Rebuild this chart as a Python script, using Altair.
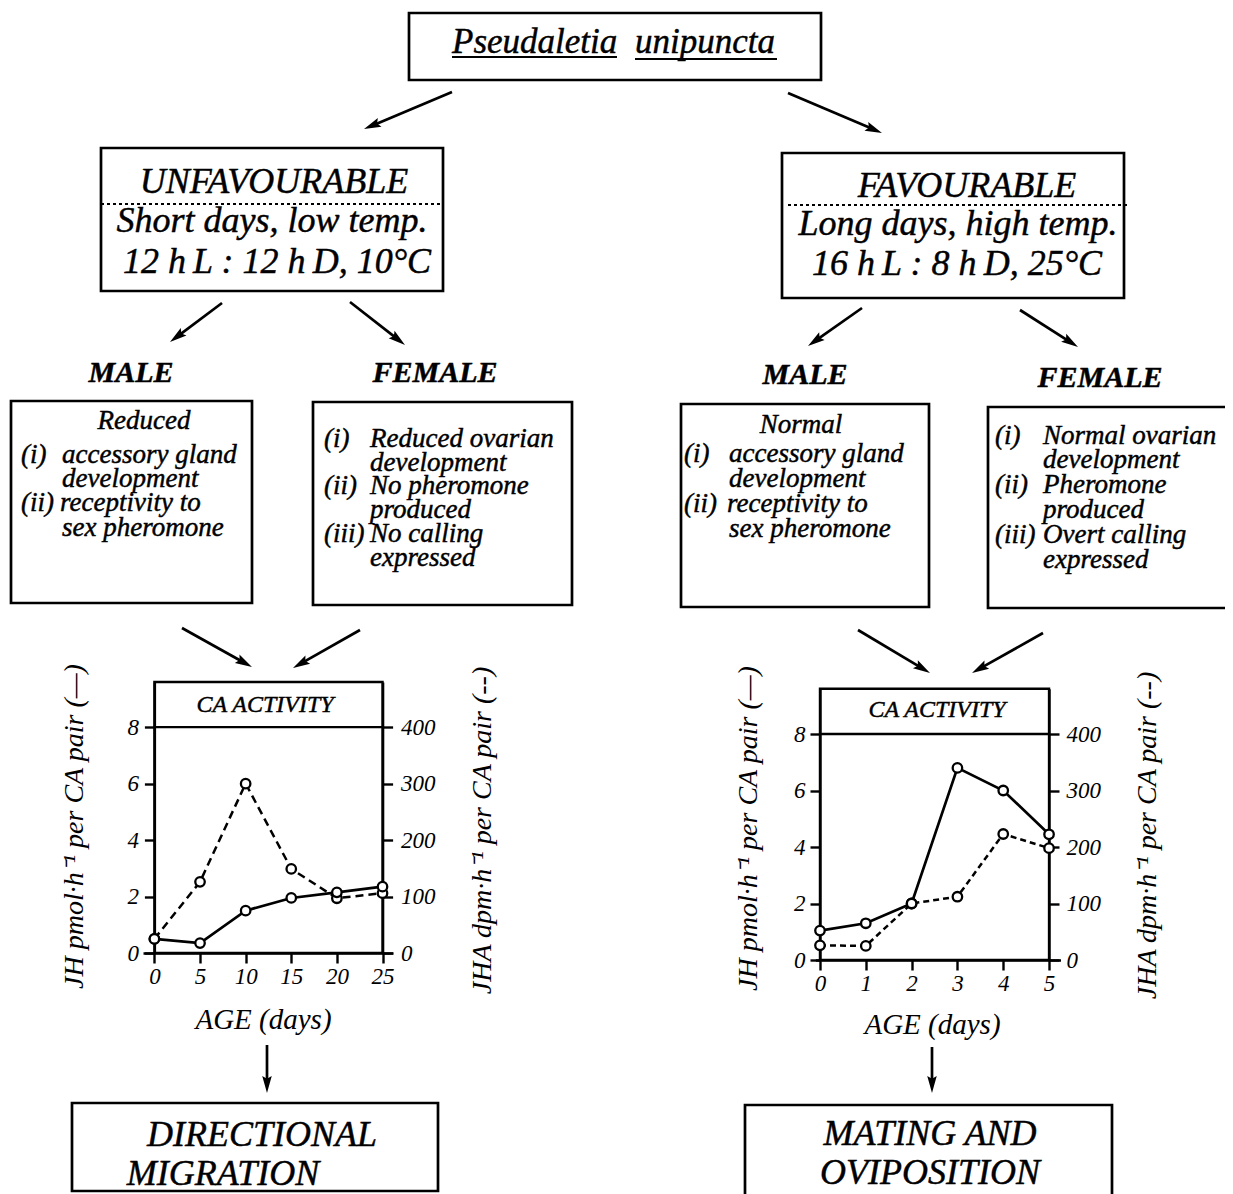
import math
import altair as alt
import pandas as pd

# ---------------- values ----------------
age_unfav = [0, 5, 10, 15, 20, 25]
jh_unfav = [0.50, 0.35, 1.50, 1.95, 2.15, 2.35]
jha_unfav = [25, 126, 300, 149, 97, 106]

age_fav = [0, 1, 2, 3, 4, 5]
jh_fav = [1.04, 1.30, 2.00, 6.80, 6.00, 4.45]
jha_fav = [26, 25, 100, 112, 223, 198]

jh_ticks = [0, 2, 4, 6, 8]
jha_ticks = [0, 100, 200, 300, 400]
age_ticks_unfav = [0, 5, 10, 15, 20, 25]
age_ticks_fav = [0, 1, 2, 3, 4, 5]
jh_frame_top = 9.6
jha_frame_top = 480

jh_title = "JH pmol·h⁻¹  per CA pair (—)"
jha_title = "JHA dpm·h⁻¹  per CA pair (--)"
age_title = "AGE (days)"
panel_label = "CA  ACTIVITY"

# ---------------- page geometry (reference pixels) ----------------
OFF = 8
W, H = 1217, 1186
FONT = "Liberation Serif"


def c(v):
    return v - OFF


boxes = [
    (409, 13, 821, 80),
    (101, 148, 443, 291),
    (782, 153, 1124, 298),
    (11, 401, 252, 603),
    (313, 402, 572, 605),
    (681, 404, 929, 607),
    (988, 407, 1260, 608),
    (72, 1103, 438, 1191),
    (745, 1105, 1112, 1210),
]
dotted = [(101, 204, 443, 204), (788, 205, 1127, 205)]
underlines = [(452, 57, 617, 57), (635, 59, 777, 59)]

BIG = 36
BOX = 27
text_ic = [
    ("UNFAVOURABLE", 274, 193, BIG),
    ("Short days, low temp.", 272, 232, BIG),
    ("12 h\u2009L : 12 h\u2009D, 10°C", 277, 273, BIG),
    ("FAVOURABLE", 967, 197, BIG),
    ("Long days, high temp.", 958, 235, BIG),
    ("16 h\u2009L : 8 h\u2009D, 25°C", 957, 275, BIG),
    ("Reduced", 144, 429, BOX),
    ("Normal", 801, 433, BOX),
    (panel_label, 265, 712, 24),
    (panel_label, 937, 717, 24),
    ("DIRECTIONAL", 262, 1146, 36),
    ("MIGRATION", 223, 1185, 36),
    ("MATING AND", 930, 1145, 36),
    ("OVIPOSITION", 930, 1184, 36),
]
text_il = [
    ("Pseudaletia", 452, 53, 35),
    ("unipuncta", 635, 53, 35),
    ("(i)", 21, 463, BOX), ("accessory gland", 62, 463, BOX),
    ("development", 62, 487, BOX),
    ("(ii)", 21, 511, BOX), ("receptivity to", 60, 511, BOX),
    ("sex pheromone", 62, 536, BOX),
    ("(i)", 324, 447, BOX), ("Reduced ovarian", 370, 447, BOX),
    ("development", 370, 471, BOX),
    ("(ii)", 324, 494, BOX), ("No pheromone", 370, 494, BOX),
    ("produced", 370, 518, BOX),
    ("(iii)", 324, 542, BOX), ("No calling", 370, 542, BOX),
    ("expressed", 370, 566, BOX),
    ("(i)", 684, 462, BOX), ("accessory gland", 729, 462, BOX),
    ("development", 729, 487, BOX),
    ("(ii)", 684, 512, BOX), ("receptivity to", 727, 512, BOX),
    ("sex pheromone", 729, 537, BOX),
    ("(i)", 995, 444, BOX), ("Normal ovarian", 1043, 444, BOX),
    ("development", 1043, 468, BOX),
    ("(ii)", 995, 493, BOX), ("Pheromone", 1043, 493, BOX),
    ("produced", 1043, 518, BOX),
    ("(iii)", 995, 543, BOX), ("Overt calling", 1043, 543, BOX),
    ("expressed", 1043, 568, BOX),
]
text_bi = [
    ("MALE", 131, 382, 30), ("FEMALE", 435, 382, 30),
    ("MALE", 805, 384, 30), ("FEMALE", 1100, 387, 30),
]
arrows = [
    ((452, 92), (364, 129)),
    ((788, 93), (882, 133)),
    ((222, 303), (170, 342)),
    ((350, 302), (405, 345)),
    ((862, 308), (808, 346)),
    ((1020, 310), (1078, 347)),
    ((182, 628), (252, 667)),
    ((360, 630), (293, 668)),
    ((858, 630), (930, 673)),
    ((1043, 633), (972, 673)),
    ((267, 1045), (267, 1093)),
    ((932, 1047), (932, 1093)),
]
HEAD = 17.0
HEAD_PATH = "M0,0L0.42,1.5L0,1.25L-0.42,1.5Z"
HEAD_SIZE = (2 * HEAD / 1.5) ** 2

NX = dict(scale=None, axis=None)


def text_layer(rows, style, weight, align):
    df = pd.DataFrame([dict(t=t, x=c(x), y=c(y), s=s) for t, x, y, s in rows])
    return alt.Chart(df).mark_text(
        font=FONT, fontStyle=style, fontWeight=weight, align=align,
        baseline="alphabetic", color="black", stroke="black", strokeWidth=0.45,
    ).encode(
        x=alt.X("x:Q", **NX), y=alt.Y("y:Q", **NX), text="t:N",
        size=alt.Size("s:Q", scale=None, legend=None),
    )


def seg_layer(rows, width, dash=None):
    df = pd.DataFrame([dict(x=c(a), y=c(b), x2=c(cc), y2=c(d)) for a, b, cc, d in rows])
    kw = dict(color="black", strokeWidth=width)
    if dash:
        kw["strokeDash"] = dash
    return alt.Chart(df).mark_rule(**kw).encode(
        x=alt.X("x:Q", **NX), y=alt.Y("y:Q", **NX), x2="x2:Q", y2="y2:Q"
    )


def box_layer(rows):
    df = pd.DataFrame([dict(x=c(a), y=c(b), x2=c(cc), y2=c(d)) for a, b, cc, d in rows])
    return alt.Chart(df).mark_rect(
        fill="white", fillOpacity=0, stroke="black", strokeWidth=2.7
    ).encode(x=alt.X("x:Q", **NX), y=alt.Y("y:Q", **NX), x2="x2:Q", y2="y2:Q")


def arrow_layers(rows):
    shafts, heads = [], []
    for (x1, y1), (x2, y2) in rows:
        dx, dy = x2 - x1, y2 - y1
        L = math.hypot(dx, dy)
        ux, uy = dx / L, dy / L
        shafts.append((x1, y1, x2 - ux * HEAD * 0.7, y2 - uy * HEAD * 0.7))
        heads.append(dict(x=c(x2), y=c(y2), a=math.degrees(math.atan2(ux, -uy)) % 360))
    shaft = seg_layer(shafts, 2.7)
    head = alt.Chart(pd.DataFrame(heads)).mark_point(
        shape=HEAD_PATH, filled=True, color="black", size=HEAD_SIZE, opacity=1, strokeWidth=0
    ).encode(
        x=alt.X("x:Q", **NX), y=alt.Y("y:Q", **NX),
        angle=alt.Angle("a:Q", scale=None, legend=None),
    )
    return [shaft, head]


AX_COMMON = dict(
    grid=False, labelFont=FONT, labelFontStyle="italic", labelFontSize=23,
    labelColor="black", titleFont=FONT, titleFontStyle="italic",
    titleFontWeight="normal", titleColor="black", domainColor="black",
    tickColor="black", domainWidth=2.4, tickWidth=2.4, labelFlush=False,
    labelOverlap=False,
)


def panel(age, jh, jha, age_ticks, xdom, xrng, yrng, x_axis_y, yl_x, yr_x,
          x_title_xy, yl_title_xy, yr_title_xy, dash, pad_l, pad_r):
    xs = alt.Scale(domain=xdom, range=xrng, nice=False, zero=False)
    yls = alt.Scale(domain=[0, jh_frame_top], range=yrng, nice=False, zero=False)
    yrs = alt.Scale(domain=[0, jha_frame_top], range=yrng, nice=False, zero=False)

    ax_x = alt.Axis(orient="bottom", offset=x_axis_y - H, values=age_ticks,
                    title=age_title, tickSize=10, labelPadding=2, format="d",
                    titleFontSize=29, titleX=x_title_xy[0], titleY=x_title_xy[1],
                    titleBaseline="top", **AX_COMMON)
    ax_yl = alt.Axis(orient="left", offset=-yl_x, values=jh_ticks, title=jh_title,
                     tickSize=10, labelPadding=pad_l, format="d", titleFontSize=28,
                     titleAngle=270, titleBaseline="bottom",
                     titleX=yl_title_xy[0], titleY=yl_title_xy[1], **AX_COMMON)
    ax_yr = alt.Axis(orient="right", offset=yr_x - W, values=jha_ticks, title=jha_title,
                     tickSize=10, labelPadding=pad_r, format="d", titleFontSize=28,
                     titleAngle=270, titleBaseline="top",
                     titleX=yr_title_xy[0], titleY=yr_title_xy[1], **AX_COMMON)

    frame_df = pd.DataFrame({
        "a0": [min(age)], "a1": [max(age)], "v0": [0], "v1": [jh_frame_top],
        "v8": [max(jh_ticks)],
    })
    df_jh = pd.DataFrame({"age": age, "v": jh})
    df_jha = pd.DataFrame({"age": age, "v": jha})

    frame = alt.Chart(frame_df).mark_rect(
        fill="white", fillOpacity=0, stroke="black", strokeWidth=2.4
    ).encode(
        x=alt.X("a0:Q", scale=xs, axis=ax_x), x2="a1:Q",
        y=alt.Y("v0:Q", scale=yls, axis=ax_yl), y2="v1:Q",
    )
    line8 = alt.Chart(frame_df).mark_rule(color="black", strokeWidth=2.4).encode(
        x=alt.X("a0:Q", scale=xs, axis=None), x2="a1:Q",
        y=alt.Y("v8:Q", scale=yls, axis=None),
    )
    jha_line = alt.Chart(df_jha).mark_line(color="black", strokeWidth=2.5, strokeDash=dash).encode(
        x=alt.X("age:Q", scale=xs, axis=None),
        y=alt.Y("v:Q", scale=yrs, axis=ax_yr),
    )
    jh_line = alt.Chart(df_jh).mark_line(color="black", strokeWidth=2.7).encode(
        x=alt.X("age:Q", scale=xs, axis=None),
        y=alt.Y("v:Q", scale=yls, axis=None),
    )
    pt = dict(shape="circle", filled=True, fill="white", stroke="black",
              strokeWidth=2.3, size=90, opacity=1)
    jha_pts = alt.Chart(df_jha).mark_point(**pt).encode(
        x=alt.X("age:Q", scale=xs, axis=None),
        y=alt.Y("v:Q", scale=yrs, axis=None),
    )
    jh_pts = alt.Chart(df_jh).mark_point(**pt).encode(
        x=alt.X("age:Q", scale=xs, axis=None),
        y=alt.Y("v:Q", scale=yls, axis=None),
    )
    return [frame, line8, jha_line, jh_line, jha_pts, jh_pts]


# left panel (unfavourable)
p1 = panel(age_unfav, jh_unfav, jha_unfav, age_ticks_unfav,
           xdom=[-1.25, 26.15], xrng=[135, 385], yrng=[945, 674],
           x_axis_y=945, yl_x=146.4, yr_x=374.6,
           x_title_xy=(255, 52), yl_title_xy=(-66, 818), yr_title_xy=(86, 822),
           dash=[8, 5], pad_l=6, pad_r=8)
# right panel (favourable)
p2 = panel(age_fav, jh_fav, jha_fav, age_ticks_fav,
           xdom=[-0.1, 5.25], xrng=[807.4, 1052.5], yrng=[952, 680.8],
           x_axis_y=952, yl_x=812, yr_x=1041,
           x_title_xy=(924, 50), yl_title_xy=(-58, 820), yr_title_xy=(84, 827),
           dash=[6, 4], pad_l=5, pad_r=7)

layers = [
    box_layer(boxes),
    seg_layer(dotted, 2.2, dash=[3, 3]),
    seg_layer(underlines, 2.0),
    *arrow_layers(arrows),
    text_layer(text_ic, "italic", "normal", "center"),
    text_layer(text_il, "italic", "normal", "left"),
    text_layer(text_bi, "italic", "bold", "center"),
    *p1,
    *p2,
]

chart = alt.layer(*layers).resolve_scale(
    x="independent", y="independent"
).properties(
    width=W, height=H, padding=0, autosize=alt.AutoSizeParams(type="none"),
    background="white",
).configure_view(strokeWidth=0)

chart.save("out.html", embed_options={"renderer": "svg", "actions": False})
